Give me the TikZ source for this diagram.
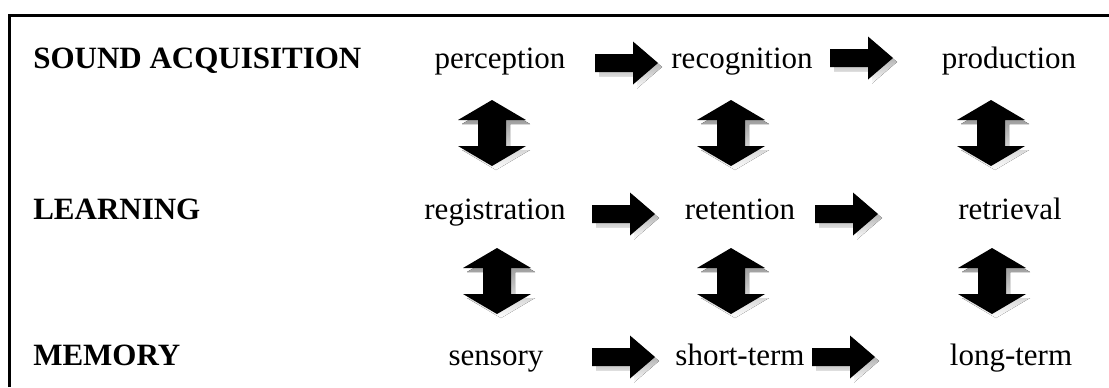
\documentclass[tikz,border=0pt]{standalone}
\usepackage{fontspec}
\setmainfont{Liberation Serif}
\definecolor{shade}{gray}{0.72}
\tikzset{
  item/.style={inner sep=0pt, anchor=base, font=\fontsize{23.25}{28}\selectfont},
  lbl/.style={inner sep=0pt, anchor=base west, font=\fontsize{23.25}{28}\selectfont\bfseries},
  rarrow/.pic={
    \fill[shade] (4,4) ++(0,-9) -- ++(38,0) -- ++(0,-12.5) -- ++(25,21.5) -- ++(-25,21.5) -- ++(0,-12.5) -- ++(-38,0) -- cycle;
    \fill[black] (0,-9) -- (38,-9) -- (38,-21.5) -- (63,0) -- (38,21.5) -- (38,9) -- (0,9) -- cycle;
  },
  darrow/.pic={
    \fill[shade] (4,4) ++(0,-33) -- ++(34,20) -- ++(-20,0) -- ++(0,26) -- ++(20,0) -- ++(-34,20) -- ++(-34,-20) -- ++(20,0) -- ++(0,-26) -- ++(-20,0) -- cycle;
    \fill[black] (0,-33) -- (34,-13) -- (14,-13) -- (14,13) -- (34,13) -- (0,33) -- (-34,13) -- (-14,13) -- (-14,-13) -- (-34,-13) -- cycle;
  }
}
\begin{document}
\begin{tikzpicture}[x=0.75pt,y=-0.75pt]
\useasboundingbox (0,0) rectangle (1109,387);
\draw[line width=2.25pt] (9.5,387) -- (9.5,15.5) -- (1109,15.5);
% row labels
\node[lbl] (sa) at (33,68) {SOUND ACQUISITION};
\node[lbl] (le) at (33,219) {LEARNING};
\node[lbl] (me) at (33,365) {MEMORY};
% row 1
\node[item] (perc) at (500,68) {perception};
\node[item] (reco) at (742,68) {recognition};
\node[item] (prod) at (1009,68) {production};
% row 2
\node[item] (regi) at (495,219) {registration};
\node[item] (rete) at (740,219) {retention};
\node[item] (retr) at (1010,219) {retrieval};
% row 3
\node[item] (sens) at (496,365) {sensory};
\node[item] (shor) at (740,365) {short-term};
\node[item] (long) at (1011,365) {long-term};
% horizontal block arrows
\pic (h11) at (595,63) {rarrow};
\pic (h12) at (830,58) {rarrow};
\pic (h21) at (592,214) {rarrow};
\pic (h22) at (815,214) {rarrow};
\pic (h31) at (592,357) {rarrow};
\pic (h32) at (812,357) {rarrow};
% vertical double block arrows
\pic (v11) at (492,133) {darrow};
\pic (v12) at (731,133) {darrow};
\pic (v13) at (991,133) {darrow};
\pic (v21) at (497,281) {darrow};
\pic (v22) at (731,281) {darrow};
\pic (v23) at (992,281) {darrow};
\end{tikzpicture}
\end{document}
